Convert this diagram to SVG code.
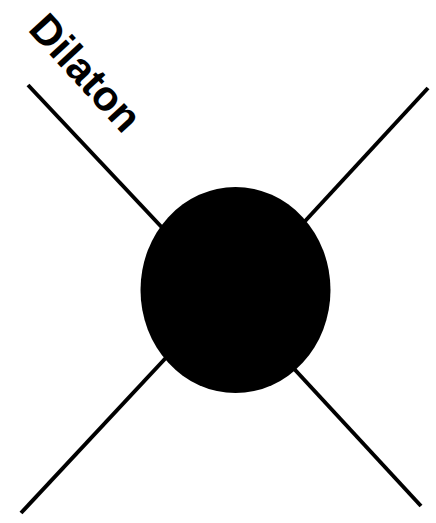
<svg xmlns="http://www.w3.org/2000/svg" width="436" height="523" viewBox="0 0 436 523">
<style>
.leg{stroke:#000;stroke-width:4;fill:none}
.lbl{font-family:"Liberation Sans",Arial,sans-serif;font-weight:bold;font-size:42px;fill:#000}
</style>
<rect width="436" height="523" fill="#fff"/>
<g id="connectors">
<line class="leg" x1="28" y1="85" x2="170" y2="236"/>
<line class="leg" x1="428" y1="88" x2="295" y2="232"/>
<line class="leg" x1="21" y1="513" x2="176" y2="347"/>
<line class="leg" x1="421" y1="506" x2="285" y2="359"/>
</g>
<g id="vertex">
<ellipse cx="235.5" cy="290" rx="95" ry="103" fill="#000"/>
</g>
<g id="label">
<text class="lbl" transform="translate(27,30) rotate(47.5)">Dilaton</text>
</g>
</svg>
